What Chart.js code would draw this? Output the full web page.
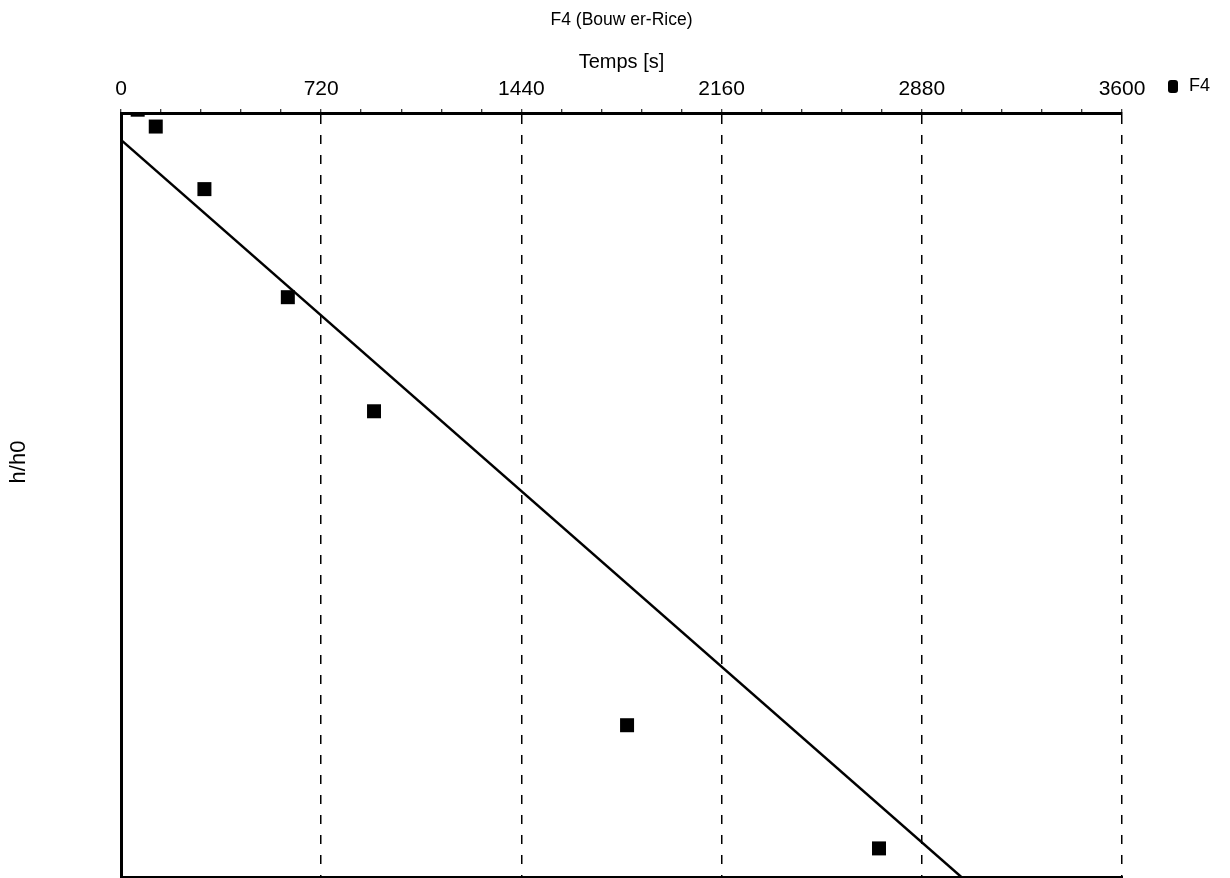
<!DOCTYPE html>
<html>
<head>
<meta charset="utf-8">
<script src="https://cdn.jsdelivr.net/npm/chart.js@4.4.0/dist/chart.umd.min.js"></script>
<style>
  html, body { margin: 0; padding: 0; background: #fff; }
  #wrap { width: 1230px; height: 878px; position: relative; }
</style>
</head>
<body>
<div id="wrap"><canvas id="grafico"></canvas></div>
<script>
// Mesures F4 : temps [s] et rapport h/h0
const temps = [60, 125, 300, 600, 910, 1820, 2726];
const rapportH = [1.01, 0.960, 0.795, 0.574, 0.407, 0.158, 0.109];

// Droite d'ajustement (Bouwer-Rice)
const droiteTemps = [0, 3600];
const droiteH = [0.922, 0.0654];

// Graduations principales de l'axe du temps
const ticksMajeurs = [0, 720, 1440, 2160, 2880, 3600];

const police = '"Liberation Sans", Arial, sans-serif';

// Titre vertical et petite legende a droite, dessines a la main
const decor = {
    id: 'decor',
    afterDraw(chart) {
        const c = chart.ctx;
        c.save();
        c.fillStyle = '#000';
        c.font = '22px ' + police;
        c.translate(19, 462);
        c.rotate(-Math.PI / 2);
        c.textAlign = 'center';
        c.textBaseline = 'middle';
        c.fillText('h/h0', 0, 0);
        c.restore();

        c.save();
        c.fillStyle = '#000';
        c.beginPath();
        c.roundRect(1168, 80, 10, 13, 3);
        c.fill();
        c.font = '18px ' + police;
        c.textBaseline = 'middle';
        c.fillText('F4', 1189, 86);
        c.restore();
    }
};

const ctx = document.getElementById('grafico');

new Chart(ctx, {
    data: {
        datasets: [{
            type: 'scatter',
            label: 'F4',
            data: temps.map((t, i) => ({ x: t, y: rapportH[i] })),
            pointStyle: 'rect',
            pointRadius: 9.9,
            pointHoverRadius: 9.9,
            backgroundColor: '#000',
            borderWidth: 0,
            clip: 0
        }, {
            type: 'line',
            label: 'droite',
            data: droiteTemps.map((t, i) => ({ x: t, y: droiteH[i] })),
            borderColor: '#000',
            borderWidth: 2.5,
            pointRadius: 0,
            fill: false
        }]
    },
    options: {
        responsive: true,
        maintainAspectRatio: false,
        animation: false,
        layout: { autoPadding: false, padding: { left: 0, top: 0, bottom: 0, right: 108 } },
        plugins: {
            legend: { display: false },
            tooltip: { enabled: false },
            title: {
                display: true,
                fullSize: false,
                text: 'F4 (Bouw er-Rice)',
                color: '#000',
                font: { family: police, size: 17.5, weight: 'normal' },
                padding: { top: 10, bottom: 10 }
            }
        },
        scales: {
            x: {
                type: 'linear',
                position: 'top',
                min: 0,
                max: 3600,
                afterFit: function(s) { s.height = 72; },
                ticks: {
                    stepSize: 144,
                    autoSkip: false,
                    maxRotation: 0,
                    minRotation: 0,
                    padding: 7,
                    color: '#000',
                    font: { family: police, size: 21 },
                    callback: function(v) { return ticksMajeurs.includes(v) ? String(v) : ''; }
                },
                grid: {
                    color: function(c) {
                        const v = c.tick ? c.tick.value : -1;
                        return (v !== 0 && ticksMajeurs.includes(v)) ? '#000' : 'rgba(0,0,0,0)';
                    },
                    lineWidth: 1.5,
                    tickColor: '#000',
                    tickWidth: 1,
                    tickLength: 4
                },
                border: { display: true, color: '#000', width: 3, dash: [9, 11] },
                title: {
                    display: true,
                    text: 'Temps [s]',
                    color: '#000',
                    font: { family: police, size: 20 },
                    padding: { top: 9.5, bottom: 0 }
                }
            },
            x2: {
                type: 'linear',
                position: 'bottom',
                afterFit: function(s) { s.height = 1; },
                ticks: { display: false },
                grid: { display: false, drawTicks: false },
                border: { display: true, color: '#000', width: 2 }
            },
            y: {
                type: 'logarithmic',
                position: 'left',
                min: 0.1,
                max: 1,
                afterFit: function(s) { s.width = 121; },
                ticks: { display: false },
                grid: { display: false, drawTicks: false },
                border: { display: true, color: '#000', width: 3 }
            }
        }
    },
    plugins: [decor]
});
</script>
</body>
</html>
